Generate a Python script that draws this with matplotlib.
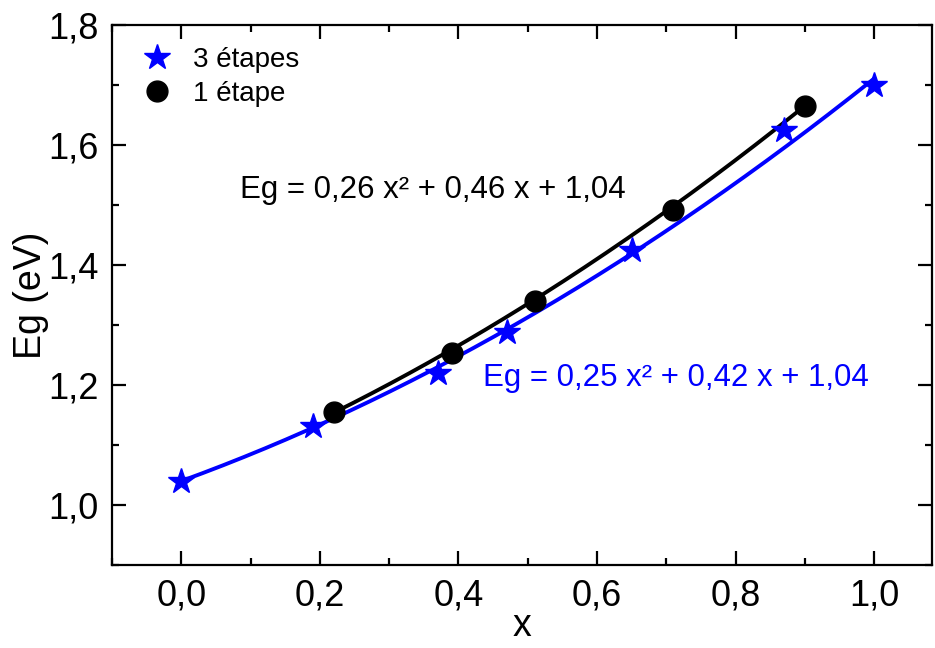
# Eg vs x - 3 etapes / 1 etape
import numpy as np
import matplotlib.pyplot as plt
from matplotlib.ticker import MultipleLocator, FuncFormatter

# data
x_3etapes = [0.0, 0.19, 0.37, 0.47, 0.65, 0.87, 1.0]
eg_3etapes = [1.04, 1.132, 1.22, 1.288, 1.425, 1.625, 1.70]
x_1etape = [0.22, 0.39, 0.51, 0.71, 0.90]
eg_1etape = [1.155, 1.253, 1.34, 1.492, 1.664]

# fit coefficients as written on the chart (a x^2 + b x + c)
fit_3etapes = [0.25, 0.42, 1.04]
fit_1etape = [0.26, 0.46, 1.04]

BLUE = "#0000ff"
plt.rcParams['font.family'] = ['Liberation Sans', 'DejaVu Sans']

fig = plt.figure(figsize=(9.35, 6.48), dpi=100)
ax = fig.add_axes([0.12, 0.128, 0.877, 0.834])

# fitted curves
xb = np.linspace(min(x_3etapes), max(x_3etapes), 200)
xk = np.linspace(min(x_1etape), max(x_1etape), 200)
ax.plot(xk, np.polyval(fit_1etape, xk), color="black", lw=2.8, zorder=2)
ax.plot(xb, np.polyval(fit_3etapes, xb), color=BLUE, lw=2.8, zorder=2)

ax.plot(x_1etape, eg_1etape, "o", color="black", ms=15, ls="none",
        label="1 étape", zorder=3)
ax.plot(x_3etapes, eg_3etapes, "*", color=BLUE, ms=19, ls="none",
        label="3 étapes", zorder=4)

ax.text(0.085, 1.525, "Eg = 0,26 x² + 0,46 x + 1,04", fontsize=22.5,
        color="black", va="center")
ax.text(0.435, 1.211, "Eg = 0,25 x² + 0,42 x + 1,04", fontsize=22.5,
        color=BLUE, va="center")

ax.set_xlim(-0.1, 1.084)
ax.set_ylim(0.9, 1.8)
ax.xaxis.set_major_locator(MultipleLocator(0.2))
ax.xaxis.set_minor_locator(MultipleLocator(0.1))
ax.yaxis.set_major_locator(MultipleLocator(0.2))
ax.yaxis.set_minor_locator(MultipleLocator(0.1))
comma = FuncFormatter(lambda v, p: f"{v:.1f}".replace(".", ","))
ax.xaxis.set_major_formatter(comma)
ax.yaxis.set_major_formatter(comma)

ax.tick_params(which="both", direction="in", top=True, right=True,
               width=1.6, labelsize=26)
ax.tick_params(which="major", length=10, pad=10)
ax.tick_params(which="minor", length=5)
for s in ax.spines.values():
    s.set_linewidth(1.6)

ax.set_xlabel("x", fontsize=27, labelpad=-4)
ax.set_ylabel("Eg (eV)", fontsize=27, labelpad=-1)

h, l = ax.get_legend_handles_labels()
ax.legend(h[::-1], l[::-1], loc="upper left", frameon=False, fontsize=20,
          handletextpad=0.5, borderaxespad=0.4, labelspacing=0.3,
          handlelength=1.6, borderpad=0.4)

fig.savefig("out.png", dpi=100)
